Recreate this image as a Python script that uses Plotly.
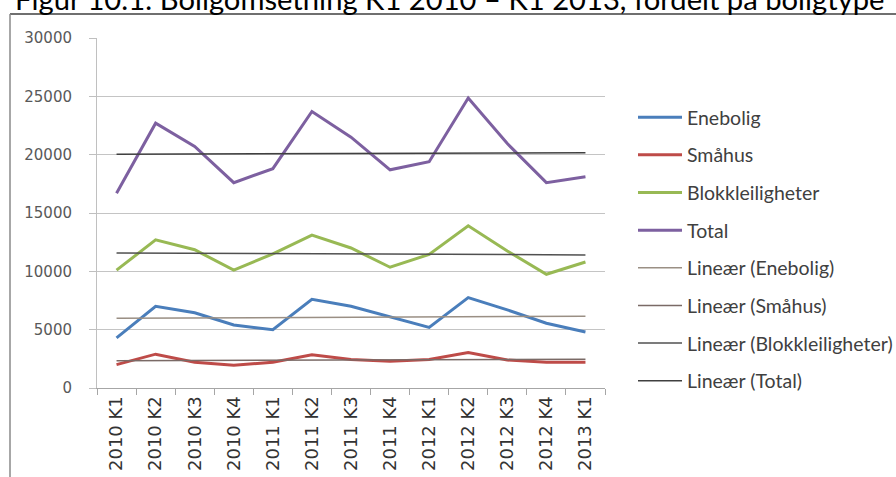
import numpy as np
import plotly.graph_objects as go

# Quarterly housing turnover by dwelling type
quarters = ["2010 K1", "2010 K2", "2010 K3", "2010 K4",
            "2011 K1", "2011 K2", "2011 K3", "2011 K4",
            "2012 K1", "2012 K2", "2012 K3", "2012 K4",
            "2013 K1"]

enebolig = [4300, 7000, 6450, 5400, 5000, 7600, 7000, 6100, 5200, 7750, 6700, 5550, 4800]
smahus = [2000, 2900, 2200, 1950, 2200, 2850, 2450, 2300, 2450, 3050, 2400, 2200, 2200]
blokk = [10100, 12700, 11850, 10100, 11500, 13100, 12000, 10350, 11450, 13900, 11750, 9750, 10800]
total = [16700, 22700, 20700, 17600, 18800, 23700, 21500, 18700, 19400, 24850, 20950, 17600, 18100]

series = [
    ("Enebolig", enebolig, "#4A7EBB", "#9a8f84"),
    ("Småhus", smahus, "#BE4B48", "#7a6a66"),
    ("Blokkleiligheter", blokk, "#98B954", "#505050"),
    ("Total", total, "#7D60A0", "#404040"),
]

fig = go.Figure()
idx = np.arange(len(quarters))

for name, vals, col, _ in series:
    fig.add_trace(go.Scatter(
        x=quarters, y=vals, mode="lines", name=name,
        line=dict(color=col, width=3), legendgroup=name,
    ))

# Linear trend lines fitted to each series
for name, vals, _, tcol in series:
    a, b = np.polyfit(idx, np.array(vals, dtype=float), 1)
    fig.add_trace(go.Scatter(
        x=quarters, y=a * idx + b, mode="lines", name=f"Lineær ({name})",
        line=dict(color=tcol, width=1.5), legendgroup="t" + name,
    ))

W, H = 896, 477
L, R, T, B = 97, 291, 38, 89
pw, ph = W - L - R, H - T - B

def px(x):
    return (x - L) / pw

def py(y):
    return (H - B - y) / ph

fig.update_layout(
    width=W, height=H,
    margin=dict(l=L, r=R, t=T, b=B, autoexpand=False),
    paper_bgcolor="white", plot_bgcolor="white",
    font=dict(family="Lato, sans-serif", color="#404040"),
    showlegend=True,
    legend=dict(
        x=px(633), y=py(98), xanchor="left", yanchor="top",
        font=dict(size=19.5, color="#404040"),
        tracegroupgap=9.3, itemwidth=44, traceorder="grouped",
        bgcolor="rgba(0,0,0,0)",
    ),
    xaxis=dict(
        type="category", range=[-0.5, 12.5], automargin=False,
        showline=True, linecolor="#a6a6a6", linewidth=1,
        ticks="outside", tickson="boundaries", ticklen=6, tickcolor="#a6a6a6",
        tickangle=-90, tickfont=dict(size=18, color="#333333", family="DejaVu Sans"),
        showgrid=False, zeroline=False,
    ),
    yaxis=dict(
        range=[0, 30000], dtick=5000, tickformat="d", automargin=False,
        showline=True, linecolor="#c0c0c0", linewidth=1,
        ticks="outside", ticklen=7, tickcolor="#bfbfbf",
        tickfont=dict(size=15, color="#595959", family="DejaVu Sans"),
        ticklabelstandoff=14,
        showgrid=True, gridcolor="#c4c4c4", gridwidth=1, zeroline=False,
    ),
    annotations=[dict(
        text="Figur 10.1: Boligomsetning K1 2010 – K1 2013, fordelt på boligtype",
        xref="paper", yref="paper", x=px(13), y=py(18),
        xanchor="left", yanchor="bottom", showarrow=False,
        font=dict(size=29.2, color="#000000", family="Lato, sans-serif"),
    )],
    shapes=[
        dict(type="line", xref="paper", yref="paper",
             x0=px(10), x1=px(W + 5), y0=py(14), y1=py(14),
             line=dict(color="#6f6f6f", width=2)),
        dict(type="line", xref="paper", yref="paper",
             x0=px(10), x1=px(10), y0=py(14), y1=py(H + 5),
             line=dict(color="#8a8a8a", width=1.5)),
    ],
)

fig.write_html("out.html")
